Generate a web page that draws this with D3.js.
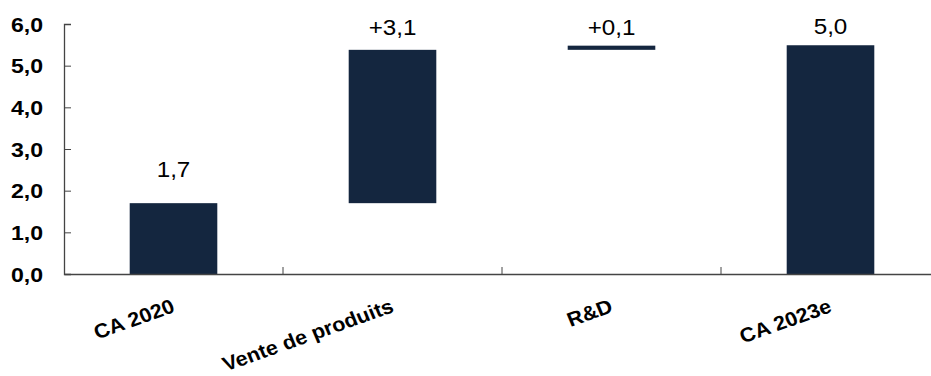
<!DOCTYPE html>
<html>
<head>
<meta charset="utf-8">
<script src="https://cdn.jsdelivr.net/npm/d3@7"></script>
<style>
  html, body { margin: 0; padding: 0; background: #fff; }
  svg { display: block; font-family: "Liberation Sans", Arial, sans-serif; }
</style>
</head>
<body>
<svg id="chart" width="931" height="376"></svg>
<script>
// ---- data ----
const categories = ["CA 2020", "Vente de produits", "R&D", "CA 2023e"];
const barStart = [0, 1.70, 5.38, 0];
const barEnd = [1.70, 5.38, 5.48, 5.49];
const valueLabels = ["1,7", "+3,1", "+0,1", "5,0"];
const yTickValues = [0, 1, 2, 3, 4, 5, 6];

// ---- style config ----
const labelGaps = [26, 15, 11, 11];
const stretch = 1.1;
const barColor = "#14263f";
const axisColor = "#444";

const svg = d3.select("#chart");
const x = d3.scaleBand().domain(categories).range([64, 940]).padding(0);
const y = d3.scaleLinear().domain([0, 6]).range([274, 24]);
const bw = x.bandwidth() * 0.4;
const cx = c => x(c) + x.bandwidth() / 2;

const data = categories.map((c, i) => ({ c, s: barStart[i], e: barEnd[i], label: valueLabels[i], gap: labelGaps[i] }));

// bars
svg.append("g").selectAll("rect").data(data).join("rect")
  .attr("x", d => cx(d.c) - bw / 2)
  .attr("y", d => y(Math.max(d.s, d.e)))
  .attr("width", bw)
  .attr("height", d => Math.abs(y(d.s) - y(d.e)))
  .attr("fill", barColor);

// y axis
const yAxis = svg.append("g").attr("transform", "translate(64,0)")
  .call(d3.axisRight(y).tickValues(yTickValues).tickSize(7).tickFormat(""));
yAxis.select(".domain").attr("stroke", axisColor).attr("stroke-width", 1.3);
yAxis.selectAll(".tick line").attr("stroke", axisColor);

svg.append("g").selectAll("text").data(yTickValues).join("text")
  .attr("transform", d => `translate(43,${y(d)}) scale(${stretch},1)`)
  .attr("text-anchor", "end")
  .attr("dy", "0.36em")
  .attr("font-size", 21)
  .attr("font-weight", "bold")
  .attr("fill", "#000")
  .text(d => d3.format(".1f")(d).replace(".", ","));

// x axis
const xAxis = svg.append("g").attr("transform", `translate(0,${y(0)})`)
  .call(d3.axisBottom(x).tickSize(0).tickFormat(""));
xAxis.select(".domain").attr("stroke", axisColor).attr("stroke-width", 1.6);
xAxis.selectAll(".tick").remove();

// category boundary ticks (pointing up)
svg.append("g").selectAll("line").data(categories.slice(1)).join("line")
  .attr("x1", d => x(d)).attr("x2", d => x(d))
  .attr("y1", y(0)).attr("y2", y(0) - 7)
  .attr("stroke", axisColor);

// category labels
svg.append("g").selectAll("text").data(categories).join("text")
  .attr("transform", d => `translate(${cx(d) - 3},298) scale(1.08,1) rotate(-21)`)
  .attr("text-anchor", "end")
  .attr("dy", "0.72em")
  .attr("font-size", 20)
  .attr("font-weight", "bold")
  .attr("fill", "#000")
  .text(d => d);

// value labels
svg.append("g").selectAll("text").data(data).join("text")
  .attr("transform", d => `translate(${cx(d.c)},${y(Math.max(d.s, d.e)) - d.gap}) scale(${stretch},1)`)
  .attr("text-anchor", "middle")
  .attr("font-size", 22)
  .attr("fill", "#000")
  .text(d => d.label);
</script>
</body>
</html>
